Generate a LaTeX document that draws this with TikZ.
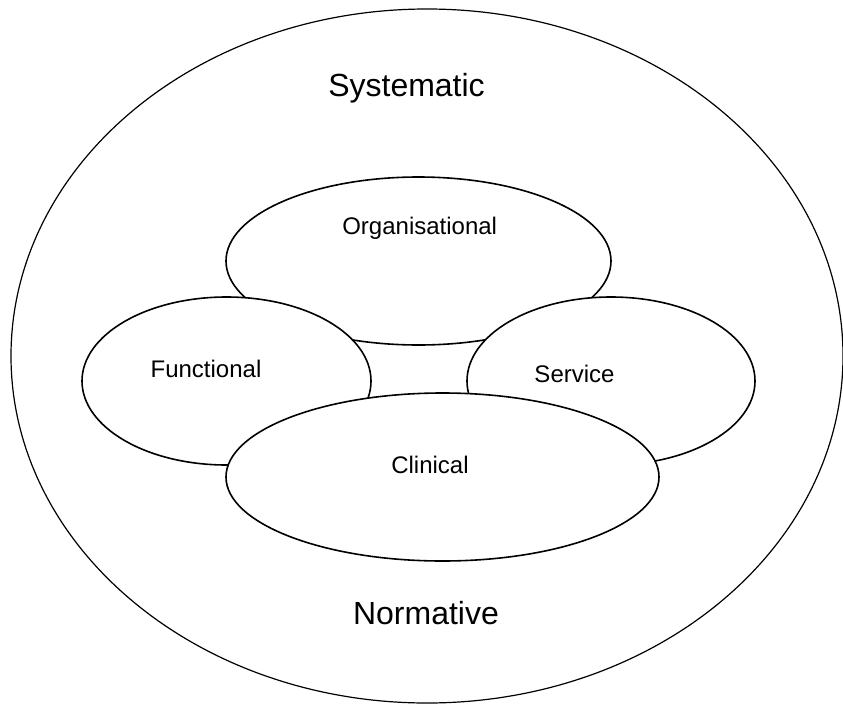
\documentclass[tikz,border=0pt]{standalone}
\usepackage{fontspec}
\setmainfont{Liberation Sans}
\usetikzlibrary{shapes.geometric}

\tikzset{
	ambito/.style={draw, ellipse, fill=white, line width=1.6pt, inner sep=0pt},
	rotulo grande/.style={font=\fontsize{32}{38}\selectfont, anchor=base},
	rotulo/.style={font=\fontsize{24}{29}\selectfont, anchor=base}
}

\begin{document}
\begin{tikzpicture}[x=1pt, y=-1pt]
		\useasboundingbox (0,0) rectangle (843,704);
		
		% el sistema
		\node[ambito, line width=1.2pt, minimum width=832pt, minimum height=694pt] (systematic) at (427,356) {};
		
		% los ambitos
		\node[ambito, minimum width=385pt, minimum height=168pt] (organisational) at (418.5,261) {};
		\node[ambito, minimum width=289pt, minimum height=168pt] (functional) at (226.5,381) {};
		\node[ambito, minimum width=288pt, minimum height=168pt] (service) at (611,381) {};
		\node[ambito, minimum width=433pt, minimum height=168pt] (clinical) at (442.5,477) {};
		
		% los textos
		\node[rotulo grande] (systematic text) at (406.5,96.7) {Systematic};
		\node[rotulo grande] (normative text) at (426,624.3) {Normative};
		\node[rotulo] (organisational text) at (419.7,234) {Organisational};
		\node[rotulo] (functional text) at (206,377.3) {Functional};
		\node[rotulo] (service text) at (574.5,382.3) {Service};
		\node[rotulo] (clinical text) at (430,473.3) {Clinical};
		
\end{tikzpicture}
\end{document}
